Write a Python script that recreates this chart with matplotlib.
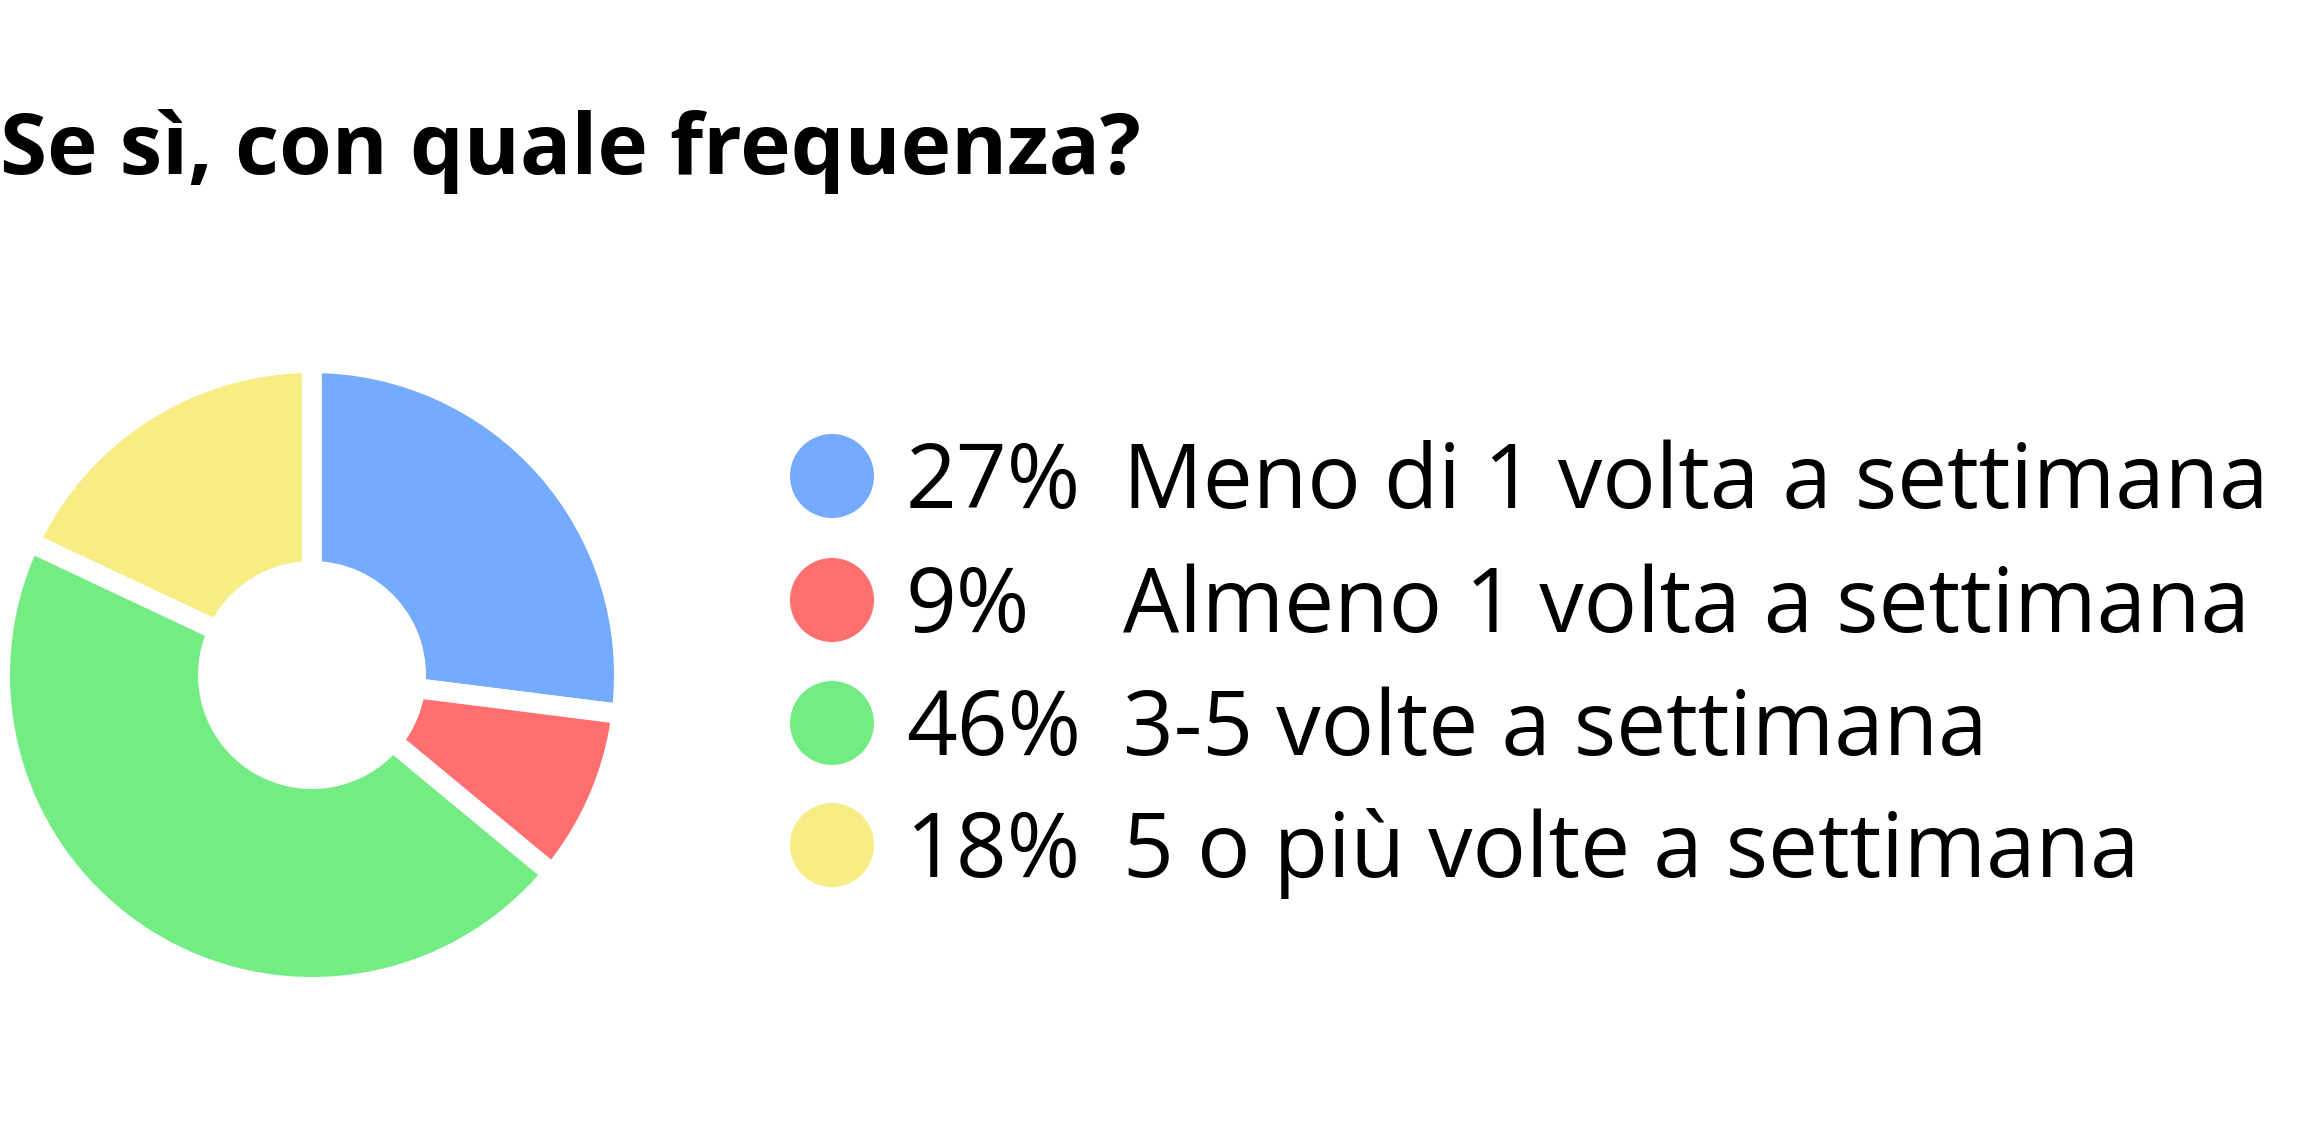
import matplotlib
matplotlib.use("Agg")
import matplotlib.pyplot as plt

# === Data ===
title = "Se sì, con quale frequenza?"
categories = ["Meno di 1 volta a settimana", "Almeno 1 volta a settimana",
              "3-5 volte a settimana", "5 o più volte a settimana"]
values = [27, 9, 46, 18]
pct_labels = ["27%", "9%", "46%", "18%"]
colors = ["#74ABFF", "#FF6F6F", "#73EC84", "#F8EC84"]

plt.rcParams['font.family'] = ['Open Sans', 'DejaVu Sans']

W, H = 2317, 1146
fig = plt.figure(figsize=(W / 100, H / 100), dpi=100)

# === Donut ===
cx, cy, R = 312, H - 675, 312
ax = fig.add_axes([(cx - R) / W, (cy - R) / H, 2 * R / W, 2 * R / H])
ax.pie(values, colors=colors, startangle=90, counterclock=False, radius=1,
       wedgeprops=dict(width=208 / R, edgecolor='white', linewidth=14.4))
ax.set_xlim(-1, 1)
ax.set_ylim(-1, 1)
ax.set_aspect('equal')
ax.axis('off')

# === Title + legend in pixel coords ===
ov = fig.add_axes([0, 0, 1, 1])
ov.set_xlim(0, W)
ov.set_ylim(H, 0)
ov.axis('off')

ov.text(0, 174, title, fontsize=61.5, fontweight='bold', va='baseline', ha='left')

row_y = [476, 600, 723, 845]
for y, pct, lab, c in zip(row_y, pct_labels, categories, colors):
    ov.scatter([832], [y], s=(84 * 0.72) ** 2, color=c, edgecolors='none')
    ov.text(906, y + 32, pct, fontsize=64, va='baseline', ha='left')
    ov.text(1123, y + 32, lab, fontsize=64, va='baseline', ha='left')

fig.savefig("out.png", dpi=100)
